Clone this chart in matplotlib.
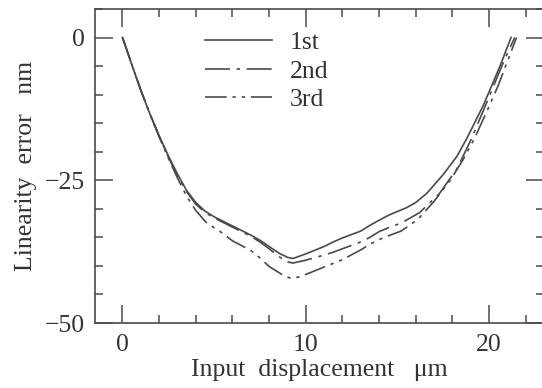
import matplotlib
matplotlib.use("Agg")
import matplotlib.pyplot as plt
from matplotlib.ticker import MultipleLocator

# data (input displacement um, linearity error nm)
x_1st = [0, 0.5, 1.0, 1.5, 2.0, 2.5, 3.0, 3.5, 4.0, 4.5, 5.0, 5.5, 6.0, 7.0, 7.5, 8.0,
         8.5, 9.0, 9.3, 10.0, 11.0, 11.5, 12.0, 13.0, 13.5, 14.0, 14.6, 15.5, 16.0, 16.6,
         17.5, 18.25, 18.8, 19.7, 20.6, 21.2]
y_1st = [0, -4.7, -9.3, -13.4, -17.2, -20.7, -23.9, -26.8, -28.9, -30.4, -31.4, -32.2,
         -33.0, -34.6, -35.5, -36.6, -37.7, -38.5, -38.7, -37.9, -36.6, -35.8, -35.1,
         -33.9, -32.9, -32.0, -31.0, -29.8, -28.9, -27.3, -24.0, -20.8, -17.6, -11.8,
         -5.0, 0.0]

x_2nd = [0, 0.5, 1.0, 1.5, 2.0, 2.5, 3.0, 3.5, 4.0, 4.5, 5.0, 5.5, 6.0, 7.0, 7.5, 8.0,
         8.5, 9.0, 9.3, 10.0, 11.0, 11.5, 12.0, 13.0, 13.5, 14.0, 14.6, 15.2, 16.2, 17.3,
         18.25, 19.0, 19.9, 20.8, 21.4]
y_2nd = [0, -4.6, -9.2, -13.4, -17.3, -20.9, -24.2, -27.0, -29.2, -30.6, -31.6, -32.4,
         -33.2, -34.8, -35.8, -37.0, -38.3, -39.3, -39.5, -39.0, -38.1, -37.6, -37.0,
         -35.8, -35.0, -34.0, -33.2, -32.5, -30.7, -27.3, -23.0, -18.0, -11.2, -4.2, 0.0]

x_3rd = [0, 0.5, 1.0, 1.5, 2.0, 2.5, 3.0, 3.5, 4.0, 4.6, 5.3, 6.0, 7.0, 7.5, 8.0, 8.8,
         9.2, 9.7, 10.0, 11.0, 12.0, 13.0, 13.5, 14.2, 15.2, 16.1, 17.0, 17.9, 18.6,
         19.2, 19.9, 20.5, 21.5]
y_3rd = [0, -4.6, -9.2, -13.4, -17.4, -21.1, -24.6, -27.8, -30.3, -32.5, -33.9, -35.6,
         -37.3, -38.6, -40.1, -41.7, -42.2, -41.9, -41.5, -40.2, -38.9, -37.2, -36.2,
         -35.1, -33.9, -31.9, -28.7, -24.9, -21.3, -17.7, -12.8, -8.4, 0.0]

plt.rcParams["font.family"] = ["Liberation Serif", "DejaVu Serif"]
ink = "#4a4a4a"
txt = "#333333"
fs = 18.5

fig = plt.figure(figsize=(5.42, 3.88), dpi=100)
ax = fig.add_axes([95 / 542, 65 / 388, 449 / 542, 314 / 388])

ax.plot(x_1st, y_1st, color=ink, lw=1.2, ls="-", label="1st")
ax.plot(x_2nd, y_2nd, color=ink, lw=1.2, ls=(0, (15, 4, 2, 4)), label="2nd")
ax.plot(x_3rd, y_3rd, color=ink, lw=1.2, ls=(0, (13, 3.5, 2, 3.5, 2, 3.5)), label="3rd")

ax.set_xlim(-1.5, 23)
ax.set_ylim(-50, 5)
ax.xaxis.set_major_locator(MultipleLocator(10))
ax.xaxis.set_minor_locator(MultipleLocator(2))
ax.yaxis.set_major_locator(MultipleLocator(25))
ax.yaxis.set_minor_locator(MultipleLocator(5))

ax.tick_params(which="both", direction="in", top=True, right=True,
               color=ink, width=1.1, labelsize=fs, labelcolor=txt)
ax.tick_params(which="major", length=13)
ax.tick_params(which="minor", length=6)
ax.tick_params(axis="x", which="major", pad=8)
ax.tick_params(axis="y", which="major", pad=7)
for s in ax.spines.values():
    s.set_color(ink)
    s.set_linewidth(1.2)

ax.set_xlabel("Input  displacement   \u03bcm", fontsize=fs, color=txt, labelpad=2)
ax.set_ylabel("Linearity  error   nm", fontsize=fs, color=txt, labelpad=6)

ax.legend(loc="upper left", bbox_to_anchor=(205 / 542, 1 - 31 / 388),
          bbox_transform=fig.transFigure, frameon=False, fontsize=fs,
          handlelength=2.62, handletextpad=0.69, labelspacing=0.22,
          borderpad=0, borderaxespad=0, labelcolor=txt)

fig.savefig("out.png", dpi=100)
